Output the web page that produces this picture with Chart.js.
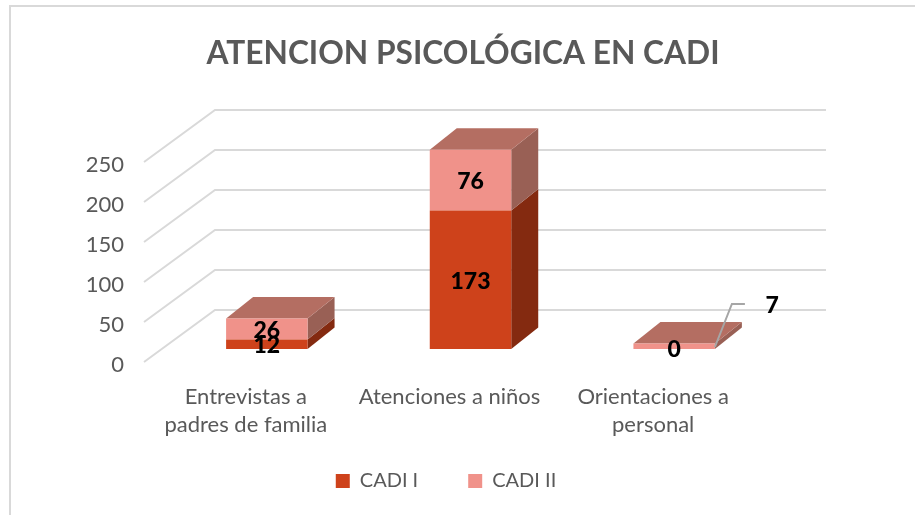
<!DOCTYPE html>
<html><head><meta charset="utf-8">
<style>html,body{margin:0;padding:0;background:#fff}canvas{display:block}</style>
<script src="https://cdn.jsdelivr.net/npm/chart.js@4"></script>
</head><body>
<canvas id="c" width="915" height="515"></canvas>
<script>
const categories = [["Entrevistas a","padres de familia"],"Atenciones a niños",["Orientaciones a","personal"]];
const cadi1 = [12,173,0];
const cadi2 = [26,76,7];
const yTicks = [0,50,100,150,200,250];
const FONT = "Lato";
const INK = "#595959";
const COL = {
  a:"#CE421B", aSide:"#842A10",
  b:"#F0928A", bSide:"#996055", bTop:"#B46E62",
  grid:"#D9D9D9", leader:"#A6A6A6"
};
const GRID_SHIFT = 3;            // tick text sits slightly under its grid line
const WALL = {dx:71, dy:52};     // back wall offset
const BAR = {dx:21, dy:16};      // bars stand inside the floor
const DEPTH = {dx:27, dy:21.5};  // bar depth
const LEGEND_TOP = 421;

function poly(ctx, pts, fill){
  ctx.beginPath();
  pts.forEach((p,i)=> i?ctx.lineTo(p[0],p[1]):ctx.moveTo(p[0],p[1]));
  ctx.closePath(); ctx.fillStyle=fill; ctx.fill();
}
const scene = {
  id:"scene",
  afterLayout(chart){
    chart.titleBlock.left=0; chart.titleBlock.right=926;
    chart.legend.left=0; chart.legend.right=892;
    chart.legend.top=LEGEND_TOP;
    chart.scales.x.bottom=465;
  },
  beforeDatasetsDraw(chart){
    const c=chart.ctx, y=chart.scales.y, a=chart.chartArea;
    c.save();
    c.strokeStyle=COL.grid; c.lineWidth=2;
    c.beginPath(); c.moveTo(915,6); c.lineTo(10,6); c.lineTo(10,515); c.stroke();
    yTicks.forEach(v=>{
      const py=y.getPixelForValue(v)-GRID_SHIFT;
      c.beginPath();
      c.moveTo(a.left,py);
      c.lineTo(a.left+WALL.dx,py-WALL.dy);
      c.lineTo(a.right+WALL.dx,py-WALL.dy);
      c.stroke();
    });
    c.restore();
    c.save();
    c.translate(BAR.dx,-BAR.dy);
    const m0=chart.getDatasetMeta(0).data, m1=chart.getDatasetMeta(1).data;
    [[m0,COL.aSide],[m1,COL.bSide]].forEach(([els,col])=>{
      els.forEach(e=>{
        if(Math.abs(e.base-e.y)<0.01) return;
        const r=e.x+e.width/2;
        poly(c,[[r,e.y],[r+DEPTH.dx,e.y-DEPTH.dy],[r+DEPTH.dx,e.base-DEPTH.dy],[r,e.base]],col);
      });
    });
    m1.forEach(e=>{
      const l=e.x-e.width/2, r=e.x+e.width/2;
      poly(c,[[l,e.y],[r,e.y],[r+DEPTH.dx,e.y-DEPTH.dy],[l+DEPTH.dx,e.y-DEPTH.dy]],COL.bTop);
    });
  },
  afterDatasetsDraw(chart){
    const c=chart.ctx;
    const m0=chart.getDatasetMeta(0).data, m1=chart.getDatasetMeta(1).data;
    c.fillStyle="#000"; c.textAlign="center"; c.textBaseline="middle";
    c.font="900 23px "+FONT;
    const e3=m1[2], r3=e3.x+e3.width/2;
    c.strokeStyle=COL.leader; c.lineWidth=2;
    c.beginPath(); c.moveTo(r3,e3.base-2); c.lineTo(r3+17,e3.base-45); c.lineTo(r3+30,e3.base-45); c.stroke();
    m1.forEach((e,i)=>{
      if(i===2) c.fillText(cadi2[i],e.x+98,e.base-43);
      else c.fillText(cadi2[i],e.x,(e.y+e.base)/2+1.5);
    });
    m0.forEach((e,i)=>{
      if(i===2) c.fillText(cadi1[i],e.x,e.base+1);
      else c.fillText(cadi1[i],e.x,(e.y+e.base)/2+1.5);
    });
    c.restore();
  }
};
new Chart(document.getElementById("c"),{
  type:"bar",
  data:{labels:categories,datasets:[
    {label:"CADI I",data:cadi1,backgroundColor:COL.a,borderWidth:0,barPercentage:1,categoryPercentage:0.4},
    {label:"CADI II",data:cadi2,backgroundColor:COL.b,borderWidth:0,barPercentage:1,categoryPercentage:0.4}
  ]},
  plugins:[scene],
  options:{
    responsive:false,animation:false,
    layout:{padding:{left:0,right:160,top:0,bottom:0}},
    scales:{
      x:{stacked:true,grid:{display:false},border:{display:false},
         afterFit(s){s.height=150-s.chart.legend.height;},
         ticks:{maxRotation:0,autoSkip:false,padding:10,color:INK,font:{family:FONT,size:22,lineHeight:1.27}}},
      y:{stacked:true,min:0,max:250,grid:{display:false},border:{display:false},
         afterFit(s){s.width=144;},
         afterBuildTicks(s){s.ticks=yTicks.map(v=>({value:v}));},
         ticks:{padding:12,color:INK,font:{family:FONT,size:22}}}
    },
    plugins:{
      tooltip:{enabled:false},
      title:{display:true,text:"ATENCION PSICOLÓGICA EN CADI",color:INK,
             font:{family:FONT,size:31.7,weight:"bold",lineHeight:1.2},padding:{top:35,bottom:91.96}},
      legend:{position:"bottom",labels:{boxWidth:14,boxHeight:14,padding:50,color:INK,font:{family:FONT,size:20}}}
    }
  }
});
</script>
</body></html>
